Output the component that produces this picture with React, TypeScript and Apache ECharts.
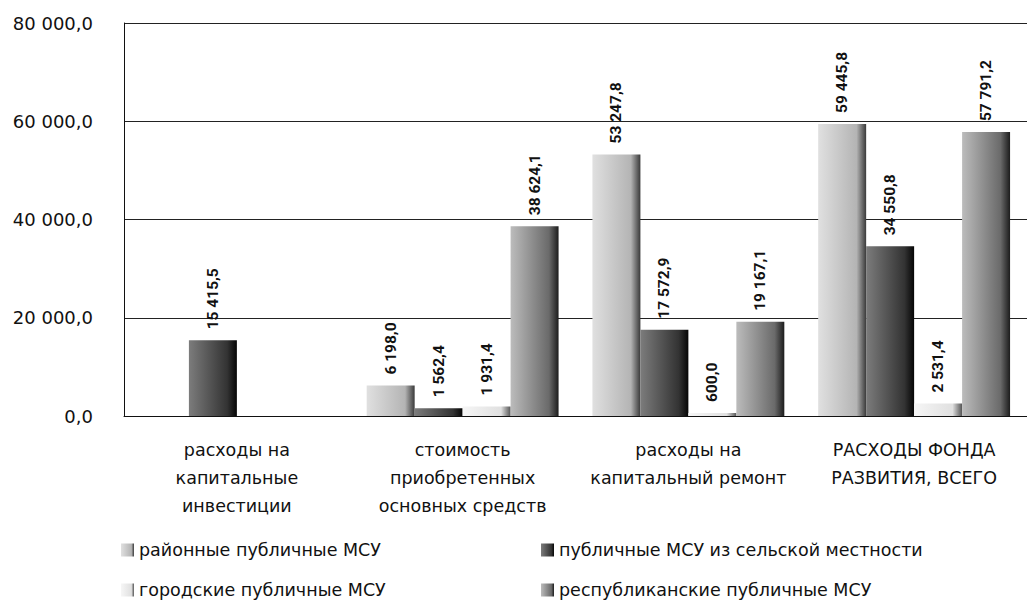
import React, { useEffect, useRef } from "react";
import * as echarts from "echarts";

const categories = [
  "расходы на\nкапитальные\nинвестиции",
  "стоимость\nприобретенных\nосновных средств",
  "расходы на\nкапитальный ремонт",
  "РАСХОДЫ ФОНДА\nРАЗВИТИЯ, ВСЕГО",
];
const seriesNames = [
  "районные публичные МСУ",
  "публичные МСУ из сельской местности",
  "городские публичные МСУ",
  "республиканские публичные МСУ",
];
const raionnye = [0, 6198.0, 53247.8, 59445.8];
const selskie = [15415.5, 1562.4, 17572.9, 34550.8];
const gorodskie = [0, 1931.4, 600.0, 2531.4];
const respublikanskie = [0, 38624.1, 19167.1, 57791.2];
const yTicks = [0, 20000, 40000, 60000, 80000];

const fmt = (v: number) => {
  const [i, d] = v.toFixed(1).split(".");
  return i.replace(/\B(?=(\d{3})+(?!\d))/g, " ") + "," + d;
};

const grad = (a: string, b: string, c: string) =>
  new echarts.graphic.LinearGradient(0, 0, 1, 0, [
    { offset: 0, color: a },
    { offset: 0.8, color: b },
    { offset: 1, color: c },
  ]);

export default function App() {
  const ref = useRef<HTMLDivElement>(null);
  useEffect(() => {
    if (!ref.current) return;
    const chart = echarts.init(ref.current, null, { renderer: "svg" });
    const values = [raionnye, selskie, gorodskie, respublikanskie];
    const colors = [
      grad("#e0e0e0", "#b4b4b4", "#3a3a3a"),
      grad("#7c7c7c", "#333333", "#050505"),
      grad("#f6f6f6", "#e0e0e0", "#555555"),
      grad("#bcbcbc", "#6a6a6a", "#1c1c1c"),
    ];
    const legendPos = [
      { left: 121, top: 540 },
      { left: 541, top: 540 },
      { left: 121, top: 580 },
      { left: 541, top: 580 },
    ];
    chart.setOption({
      animation: false,
      backgroundColor: "#ffffff",
      grid: { left: 124, top: 23, width: 920, height: 393, containLabel: false },
      legend: seriesNames.map((n, i) => ({
        data: [n],
        left: legendPos[i].left,
        top: legendPos[i].top,
        padding: 0,
        icon: "rect",
        itemWidth: 13,
        itemHeight: 13,
        itemGap: 5,
        textStyle: { fontFamily: "DejaVu Sans", fontSize: 17.5, lineHeight: 20, color: "#111" },
      })),
      xAxis: {
        type: "category",
        data: categories,
        axisLine: { show: true, lineStyle: { color: "#111", width: 1 } },
        axisTick: { show: false },
        axisLabel: {
          interval: 0,
          margin: 20,
          fontFamily: "DejaVu Sans",
          fontSize: 17.5,
          lineHeight: 28,
          color: "#111",
        },
      },
      yAxis: {
        type: "value",
        min: yTicks[0],
        max: yTicks[yTicks.length - 1],
        interval: 20000,
        axisLine: { show: true, lineStyle: { color: "#111", width: 1 } },
        axisTick: { show: false },
        splitLine: { show: true, lineStyle: { color: "#222", width: 1 } },
        axisLabel: {
          margin: 31,
          formatter: (v: number) => fmt(v),
          fontFamily: "DejaVu Sans",
          fontSize: 18,
          color: "#111",
        },
      },
      series: seriesNames.map((n, i) => ({
        name: n,
        type: "bar",
        data: values[i],
        barGap: "0%",
        barCategoryGap: "15%",
        itemStyle: { color: colors[i], borderWidth: 0 },
        label: {
          show: true,
          position: "top",
          rotate: 90,
          align: "left",
          verticalAlign: "middle",
          distance: 11,
          fontFamily: "Roboto",
          fontWeight: "bold",
          fontSize: 15.5,
          color: "#111",
          formatter: (p: any) => (p.value === 0 ? "" : fmt(p.value)),
        },
      })),
    });
    return () => chart.dispose();
  }, []);
  return (
    <div
      ref={ref}
      style={{ position: "absolute", left: 0, top: 0, width: 1027, height: 604 }}
    />
  );
}
